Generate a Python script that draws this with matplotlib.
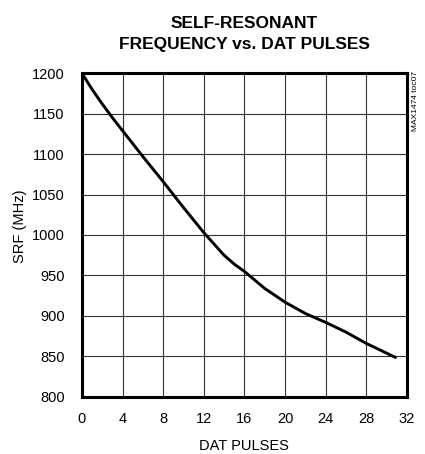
import matplotlib
matplotlib.use("Agg")
import matplotlib.pyplot as plt

dat_pulses = [0, 1, 2, 3, 4, 6, 8, 10, 12, 14, 15, 16, 18, 20, 22, 24, 26, 28, 30, 31]
srf_mhz = [1200, 1180, 1162, 1145, 1129, 1097, 1066, 1034, 1003, 975, 964, 955, 934, 917, 903, 892, 880, 866, 854, 848]
x_ticks = [0, 4, 8, 12, 16, 20, 24, 28, 32]
y_ticks = [800, 850, 900, 950, 1000, 1050, 1100, 1150, 1200]

plt.rcParams['font.family'] = ['Liberation Sans', 'DejaVu Sans']

fig = plt.figure(figsize=(4.25, 4.54), dpi=100)
ax = fig.add_axes([82/425, 1-396.7/454, (406.7-82)/425, (396.7-73.3)/454])
ax.plot(dat_pulses, srf_mhz, color='black', lw=2.1, solid_capstyle='butt')
ax.set_xlim(0, 32)
ax.set_ylim(800, 1200)
ax.set_xticks(x_ticks)
ax.set_yticks(y_ticks)
ax.grid(True, color='#333333', lw=0.8)
ax.tick_params(length=0, labelsize=10.5)
ax.tick_params(axis='y', pad=12.5)
ax.tick_params(axis='x', pad=11)
for s in ax.spines.values():
    s.set_linewidth(2.2)
fig.text((82+406.7)/2/425, 1-446/454, 'DAT PULSES', ha='center', va='center', fontsize=10.5)
fig.text(20/425, 1-226/454, 'SRF (MHz)', ha='center', va='center', rotation=90, fontsize=10.5)
fig.text((82+406.7)/2/425, 1-34/454, 'SELF-RESONANT\nFREQUENCY vs. DAT PULSES', ha='center', va='center',
         fontsize=12.5, fontweight='bold', linespacing=1.42)
fig.text(415.5/425, 1-71/454, 'MAX1474 toc07', rotation=90, ha='center', va='top', fontsize=6)
fig.savefig('out.png', dpi=100)
